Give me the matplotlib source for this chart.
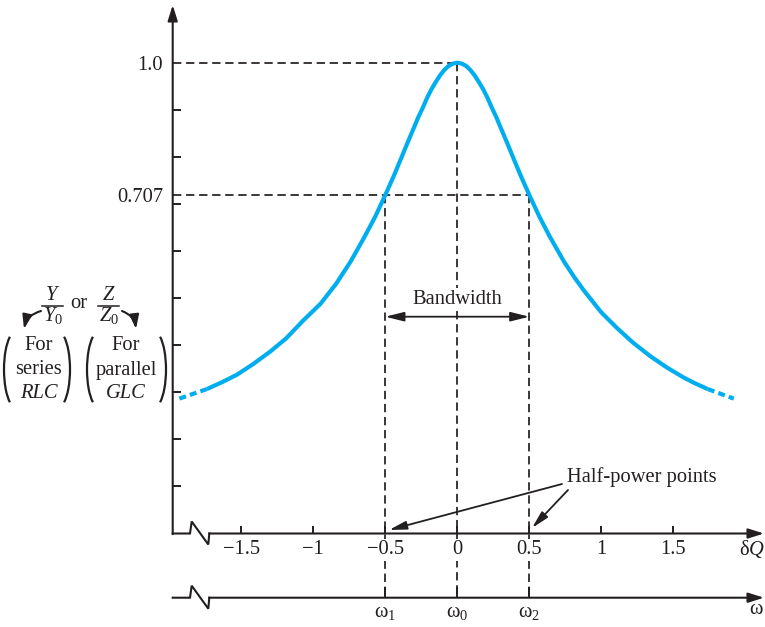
import numpy as np
import matplotlib
matplotlib.use('Agg')
import matplotlib.pyplot as plt
from matplotlib.patches import Arc

plt.rcParams['font.family'] = 'Liberation Serif'
plt.rcParams['mathtext.fontset'] = 'custom'
plt.rcParams['mathtext.rm'] = 'Liberation Serif'
plt.rcParams['mathtext.it'] = 'Liberation Serif:italic'
plt.rcParams['lines.scale_dashes'] = False

# resonance curve, values
dq = [-1.93, -1.74, -1.63, -1.53, -1.42, -1.30, -1.19, -1.07, -0.95, -0.84, -0.74, -0.65,
      -0.57, -0.50, -0.44, -0.38, -0.34, -0.30, -0.27, -0.24, -0.21, -0.18, -0.15,
      -0.12, -0.09, -0.06, -0.03, 0.0,
      0.03, 0.06, 0.09, 0.12, 0.15, 0.18, 0.21, 0.24, 0.27, 0.30, 0.34, 0.38, 0.44,
      0.50, 0.57, 0.64, 0.74, 0.81, 0.88, 1.00, 1.11, 1.22, 1.34, 1.45, 1.57, 1.65,
      1.74, 1.92]
ratio = [0.256, 0.277, 0.293, 0.309, 0.332, 0.360, 0.389, 0.429, 0.466, 0.511, 0.560, 0.611,
         0.659, 0.707, 0.750, 0.796, 0.827, 0.857, 0.880, 0.900, 0.922, 0.941, 0.957,
         0.972, 0.984, 0.993, 0.998, 1.0,
         0.998, 0.993, 0.984, 0.972, 0.957, 0.941, 0.922, 0.900, 0.880, 0.857, 0.827,
         0.796, 0.750, 0.707, 0.659, 0.616, 0.560, 0.526, 0.495, 0.447, 0.412, 0.380,
         0.350, 0.326, 0.303, 0.290, 0.277, 0.256]
half_power = 0.707
dq_ticks = [-1.5, -1, -0.5, 0, 0.5, 1, 1.5]
dq_labels = ['\u22121.5', '\u22121', '\u22120.5', '0', '0.5', '1', '1.5']
w_ticks = [-0.5, 0, 0.5]
w_labels = [r'$\mathrm{\omega}_1$', r'$\mathrm{\omega}_0$', r'$\mathrm{\omega}_2$']

K = '#231f20'
BLUE = '#00aeef'
FS = 14.8


def px(x, y):
    # picture pixel -> data units (used for annotation placement)
    return (x - 457.3) / 144.0, (514.2 - y) / 451.5


fig = plt.figure(figsize=(7.65, 6.27), dpi=100)
ax = fig.add_axes([0, 0, 1, 1])
ax.set_xlim(px(0, 0)[0], px(765, 0)[0])
ax.set_ylim(px(0, 627)[1], px(0, 0)[1])
ax.patch.set_visible(False)
for s in ax.spines.values():
    s.set_visible(False)

X_AX = px(172.7, 0)[0]
Y_AX = px(0, 533.5)[1]
Y_W = px(0, 597.7)[1]

# axis ticks
ax.spines['left'].set_position(('data', X_AX))
ax.spines['bottom'].set_position(('data', Y_AX))
ax.set_yticks([half_power, 1.0])
ax.set_yticklabels(['0.707', '1.0'])
ax.set_yticks(np.linspace(Y_AX, 1.0, 11)[1:-1], minor=True)
ax.set_xticks(dq_ticks)
ax.set_xticklabels(dq_labels)
ax.tick_params(axis='both', which='both', direction='in', length=6, width=1.4,
               color=K, labelsize=FS, labelcolor=K)
ax.tick_params(axis='y', pad=7)
ax.tick_params(axis='x', pad=5)
ax.tick_params(axis='y', which='major', length=0)
for t in ax.get_xticklabels():
    t.set_bbox(dict(facecolor='white', edgecolor='none', pad=1))

sec = ax.secondary_xaxis((Y_W - ax.get_ylim()[0]) / (ax.get_ylim()[1] - ax.get_ylim()[0]))
for s in sec.spines.values():
    s.set_visible(False)
sec.set_xticks(w_ticks)
sec.set_xticklabels(w_labels)
sec.tick_params(direction='in', length=8, width=1.4, color=K, labelsize=FS,
                labelcolor=K, pad=4)

# axis lines with break marks
axkw = dict(arrowstyle='-|>,head_length=0.67,head_width=0.21', mutation_scale=14,
            lw=1.5, color=K, shrinkA=0, shrinkB=0)
for yb in (533.5, 597.7):
    zx, zy = zip(*[px(172.7, yb), px(190, yb), px(191.7, yb - 12),
                   px(208.3, yb + 11), px(209.3, yb)])
    ax.plot(zx, zy, color=K, lw=1.5, solid_joinstyle='miter')
    ax.annotate('', xy=px(764, yb), xytext=px(209, yb), arrowprops=axkw)
ax.annotate('', xy=px(172.7, 5), xytext=px(172.7, 534.2), arrowprops=axkw)

# guide lines
dkw = dict(color=K, lw=1.25, dashes=(6, 3.4), zorder=1)
ax.plot([X_AX, 0], [1.0, 1.0], **dkw)
ax.plot([X_AX, 0.5], [half_power, half_power], **dkw)
ax.plot([-0.5, -0.5], [half_power, Y_W], **dkw)
ax.plot([0, 0], [1.0, Y_W], **dkw)
ax.plot([0.5, 0.5], [half_power, Y_W], **dkw)

# curve: solid body, dashed tails
ax.plot(dq[1:-1], ratio[1:-1], color=BLUE, lw=3.0, zorder=3, solid_capstyle='butt',
        solid_joinstyle='round')
for sl in (slice(0, 2), slice(-2, None)):
    ax.plot(dq[sl], ratio[sl], color=BLUE, lw=3.0, dashes=(5, 3), zorder=3,
            dash_capstyle='butt')

# bandwidth
yb = px(0, 316.7)[1]
ax.annotate('', xy=(-0.5, yb), xytext=(0.5, yb),
            arrowprops=dict(arrowstyle='<|-|>,head_length=0.8,head_width=0.2',
                            mutation_scale=14, lw=1.3, color=K, shrinkA=0, shrinkB=0))
ax.text(0, px(0, 299)[1], 'Bandwidth', ha='center', va='center', fontsize=FS, color=K,
        bbox=dict(facecolor='white', edgecolor='none', pad=1), zorder=2)

# half-power points
ax.text(*px(567, 477), 'Half-power points', ha='left', va='center', fontsize=FS, color=K)
hkw = dict(arrowstyle='-|>,head_length=0.75,head_width=0.18', mutation_scale=14,
           lw=1.3, color=K, shrinkA=0, shrinkB=0)
ax.annotate('', xy=px(389, 530), xytext=px(562, 484), arrowprops=hkw)
ax.annotate('', xy=px(532, 528), xytext=px(568, 490), arrowprops=hkw)

ax.text(*px(765, 549), r'$\mathrm{\delta}Q$', ha='right', va='center', fontsize=FS, color=K)
ax.text(*px(764, 609), r'$\mathrm{\omega}$', ha='right', va='center', fontsize=FS, color=K)

# left label in pixel space
ov = fig.add_axes([0, 0, 1, 1])
ov.set_xlim(0, 765)
ov.set_ylim(627, 0)
ov.axis('off')

for xc, sym in ((52.5, 'Y'), (108.5, 'Z')):
    ov.text(xc, 295, '$%s$' % sym, ha='center', va='center', fontsize=FS, color=K)
    ov.plot([xc - 10.5, xc + 10.5], [305.5, 305.5], color=K, lw=1.1)
    ov.text(xc + 0.5, 316, '$%s_0$' % sym, ha='center', va='center', fontsize=FS, color=K)
ov.text(79, 303, 'or', ha='center', va='center', fontsize=FS, color=K)
ckw = dict(arrowstyle='-|>,head_length=0.6,head_width=0.2', mutation_scale=14,
           lw=1.5, color=K, shrinkA=0, shrinkB=0)
ov.annotate('', xy=(24, 329), xytext=(41, 311), arrowprops=dict(connectionstyle='arc3,rad=0.3', **ckw))
ov.annotate('', xy=(136, 329), xytext=(122, 311), arrowprops=dict(connectionstyle='arc3,rad=-0.3', **ckw))

for xc, lines in ((39, ('For', 'series', 'RLC')), (126, ('For', 'parallel', 'GLC'))):
    for i, (yy, s) in enumerate(zip((346, 370, 394), lines)):
        ov.text(xc, yy, s, ha='center', va='center', fontsize=FS, color=K,
                style='italic' if i == 2 else 'normal')

for xl, xr in ((4, 70), (87, 166)):
    ov.add_patch(Arc((xl + 12, 369.5), 24, 76, theta1=100.5, theta2=259.5, lw=1.6, color=K))
    ov.add_patch(Arc((xr - 12, 369.5), 24, 76, theta1=-79.5, theta2=79.5, lw=1.6, color=K))

fig.savefig('out.png', dpi=100)
